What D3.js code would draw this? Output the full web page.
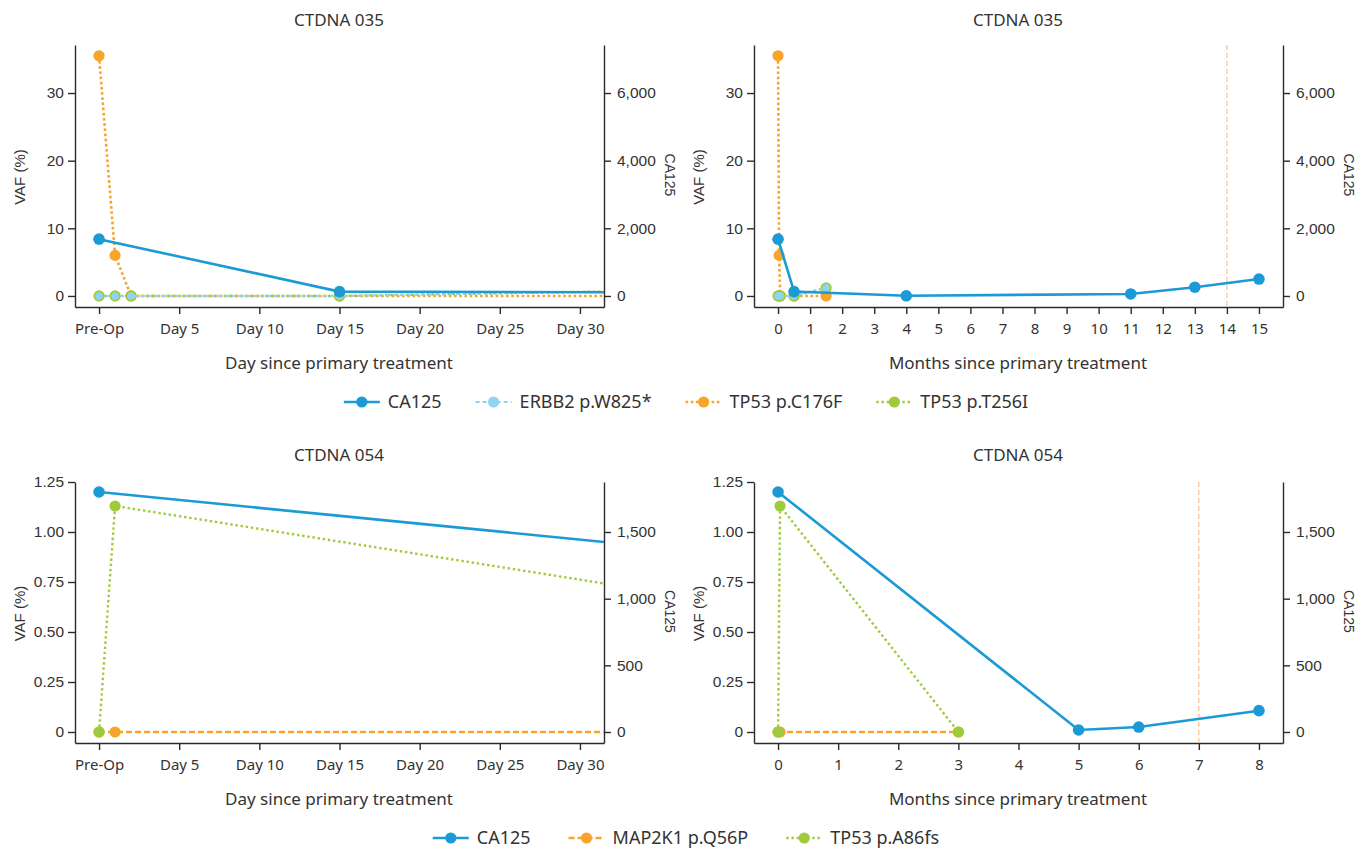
<!DOCTYPE html>
<html lang="en">
<head>
<meta charset="UTF-8">
<title>CTDNA 035 / 054</title>
<script src="https://d3js.org/d3.v7.min.js"></script>
<style>
  body { margin: 0; background: #fff; }
  svg { display: block; }
  .title { font-family: "Noto Sans", sans-serif; font-size: 17px; fill: #333; text-anchor: middle; }
  .xlab { font-family: "Noto Sans", sans-serif; font-size: 17px; fill: #333; text-anchor: middle; }
  .ylab { font-family: "Liberation Sans", Arial, sans-serif; font-size: 15px; fill: #333; text-anchor: middle; }
  .xaxis text { font-family: "Noto Sans", sans-serif; font-size: 15px; fill: #333; }
  .yaxis text { font-family: "Liberation Sans", Arial, sans-serif; font-size: 15.5px; fill: #333; }
  .xaxis path, .xaxis line, .yaxis path, .yaxis line { stroke: #2b2b2b; stroke-width: 1.4; }
  .legend text { font-family: "Noto Sans", sans-serif; font-size: 18px; fill: #333; }
</style>
</head>
<body>
<svg width="1372" height="851"></svg>
<script>
// time in days since primary treatment (Pre-Op = 0)
const dayTicks = [0, 5, 10, 15, 20, 25, 30];
const dayTickLabels = ["Pre-Op", "Day 5", "Day 10", "Day 15", "Day 20", "Day 25", "Day 30"];
const monthTicks035 = d3.range(0, 16);
const monthTicks054 = d3.range(0, 9);

// CTDNA 035
const ca125Days035 = [0, 15, 120, 330, 390, 450];
const ca125Vals035 = [1680, 130, 5, 60, 260, 500];
const mutDays035 = [0, 1, 2, 15, 45];
const erbb2Vaf = [0, 0, 0, 0, 1.2];
const tp53C176FVaf = [35.5, 6.0, 0, 0, 0];
const tp53T256IVaf = [0, 0, 0, 0, 1.2];
const vafTicks035 = [0, 10, 20, 30];
const caTicks035 = [0, 2000, 4000, 6000];
const marker035 = 14; // months

// CTDNA 054
const ca125Days054 = [0, 150, 180, 240];
const ca125Vals054 = [1800, 15, 37, 160];
const mutDays054 = [0, 1, 90];
const map2k1Vaf = [0, 0, 0];
const tp53A86fsVaf = [0, 1.13, 0];
const vafTicks054 = [0, 0.25, 0.5, 0.75, 1.0, 1.25];
const caTicks054 = [0, 500, 1000, 1500];
const marker054 = 7; // months

const C = {
  ca125: "#1b9ad6",
  erbb2: "#8fd4f0",
  orange: "#f6a52a",
  green: "#9ecb3a",
  vline: "#f7c28e"
};

const svg = d3.select("svg");

function zip(xs, ys) { return xs.map((d, i) => ({ t: d, v: ys[i] })); }

function panel(o) {
  const g = svg.append("g");
  const x = d3.scaleLinear().domain(o.xDomain).range([o.left, o.left + 529]);
  const y = d3.scaleLinear().domain(o.vafDomain).range([o.bottom, o.top]);
  const y2 = d3.scaleLinear().domain(o.vafDomain.map(v => v * o.caPerVaf)).range([o.bottom, o.top]);

  g.append("text").attr("class", "title")
    .attr("x", o.left + 264).attr("y", o.titleY).text(o.title);

  const xa = d3.axisBottom(x).tickValues(o.xTicks).tickSize(7).tickPadding(9).tickSizeOuter(0);
  if (o.xLabels) xa.tickFormat((d, i) => o.xLabels[i]);
  else xa.tickFormat(d3.format("d"));
  g.append("g").attr("class", "xaxis")
    .attr("transform", `translate(0,${o.bottom})`).call(xa);

  g.append("g").attr("class", "yaxis")
    .attr("transform", `translate(${o.left},0)`)
    .call(d3.axisLeft(y).tickValues(o.vafTicks).tickSize(7).tickPadding(4).tickSizeOuter(0)
      .tickFormat(o.vafFormat));

  g.append("g").attr("class", "yaxis")
    .attr("transform", `translate(${o.left + 529},0)`)
    .call(d3.axisRight(y2).tickValues(o.caTicks).tickSize(7).tickPadding(6).tickSizeOuter(0)
      .tickFormat(d3.format(",")));

  g.append("text").attr("class", "xlab")
    .attr("x", o.left + 264).attr("y", o.bottom + 62).text(o.xTitle);
  g.append("text").attr("class", "ylab")
    .attr("transform", `translate(${o.left - 55},${(o.top + o.bottom) / 2 + 1}) rotate(-90)`)
    .attr("dy", "0.35em").text("VAF (%)");
  g.append("text").attr("class", "ylab").style("font-size", "14px")
    .attr("transform", `translate(${o.left + 595},${(o.top + o.bottom) / 2 - 1}) rotate(90)`)
    .attr("dy", "0.35em").text("CA125");

  const clipId = "clip" + o.id;
  svg.append("clipPath").attr("id", clipId).append("rect")
    .attr("x", o.left).attr("y", 0).attr("width", 529).attr("height", 851);
  const plot = g.append("g").attr("clip-path", `url(#${clipId})`);

  if (o.vline != null) {
    plot.append("line")
      .attr("x1", x(o.vline)).attr("x2", x(o.vline))
      .attr("y1", o.top).attr("y2", o.bottom)
      .attr("stroke", C.vline).attr("stroke-width", 1.2).attr("stroke-dasharray", "5,3");
  }

  o.series.forEach(s => {
    const pts = s.data;
    const yy = s.ca ? y2 : y;
    const line = d3.line().x(d => x(d.t / o.tDiv)).y(d => yy(d.v));
    plot.append("path").datum(pts)
      .attr("fill", "none").attr("stroke", s.color)
      .attr("stroke-width", s.width).attr("stroke-dasharray", s.dash)
      .attr("d", line);
    plot.selectAll(null).data(pts).enter().append("circle")
      .attr("cx", d => x(d.t / o.tDiv)).attr("cy", d => yy(d.v))
      .attr("r", s.r).attr("fill", s.color);
  });
}

const series035 = [
  { color: C.orange, width: 2.6, dash: "2.6,2.6", r: 5.6, data: zip(mutDays035, tp53C176FVaf) },
  { color: C.green, width: 2.4, dash: "2.4,2.8", r: 5.6, data: zip(mutDays035, tp53T256IVaf) },
  { color: C.erbb2, width: 2, dash: "4,3", r: 3.8, data: zip(mutDays035, erbb2Vaf) },
  { color: C.ca125, width: 2.6, dash: null, r: 5.8, ca: true, data: zip(ca125Days035, ca125Vals035) }
];
const series054 = [
  { color: C.orange, width: 2.6, dash: "6,3", r: 5.6, data: zip(mutDays054, map2k1Vaf) },
  { color: C.green, width: 2.4, dash: "2.4,2.8", r: 5.6, data: zip(mutDays054, tp53A86fsVaf) },
  { color: C.ca125, width: 2.6, dash: null, r: 5.8, ca: true, data: zip(ca125Days054, ca125Vals054) }
];

const fmt054 = d => d === 0 ? "0" : d3.format(".2f")(d);

panel({ id: "a", left: 75, top: 45, bottom: 307, titleY: 26, title: "CTDNA 035",
  xDomain: [-1.5, 31.5], tDiv: 1, xTicks: dayTicks, xLabels: dayTickLabels,
  xTitle: "Day since primary treatment",
  vafDomain: [-1.63, 37.1], caPerVaf: 200, vafTicks: vafTicks035, caTicks: caTicks035,
  vafFormat: d3.format("d"), series: series035 });
panel({ id: "b", left: 754, top: 45, bottom: 307, titleY: 26, title: "CTDNA 035",
  xDomain: [-0.75, 15.75], tDiv: 30, xTicks: monthTicks035,
  xTitle: "Months since primary treatment", vline: marker035,
  vafDomain: [-1.63, 37.1], caPerVaf: 200, vafTicks: vafTicks035, caTicks: caTicks035,
  vafFormat: d3.format("d"), series: series035 });
panel({ id: "c", left: 75, top: 482, bottom: 743, titleY: 461, title: "CTDNA 054",
  xDomain: [-1.5, 31.5], tDiv: 1, xTicks: dayTicks, xLabels: dayTickLabels,
  xTitle: "Day since primary treatment",
  vafDomain: [-0.055, 1.25], caPerVaf: 1500, vafTicks: vafTicks054, caTicks: caTicks054,
  vafFormat: fmt054, series: series054 });
panel({ id: "d", left: 754, top: 482, bottom: 743, titleY: 461, title: "CTDNA 054",
  xDomain: [-0.4, 8.4], tDiv: 30, xTicks: monthTicks054,
  xTitle: "Months since primary treatment", vline: marker054,
  vafDomain: [-0.055, 1.25], caPerVaf: 1500, vafTicks: vafTicks054, caTicks: caTicks054,
  vafFormat: fmt054, series: series054 });

// legends
function legend(items, cy, gap) {
  const g = svg.append("g").attr("class", "legend");
  const parts = items.map(it => {
    const ig = g.append("g");
    ig.append("line").attr("x1", 0).attr("x2", 36).attr("y1", 0).attr("y2", 0)
      .attr("stroke", it.color).attr("stroke-width", it.width).attr("stroke-dasharray", it.dash);
    ig.append("circle").attr("cx", 18).attr("cy", 0).attr("r", 5.6).attr("fill", it.color);
    const t = ig.append("text").attr("x", 44).attr("y", 0).attr("dy", "0.35em").text(it.label);
    return { ig, w: 44 + t.node().getComputedTextLength() };
  });
  const total = d3.sum(parts, p => p.w) + gap * (parts.length - 1);
  let xPos = 686 - total / 2;
  parts.forEach(p => {
    p.ig.attr("transform", `translate(${xPos},${cy})`);
    xPos += p.w + gap;
  });
}

legend([
  { label: "CA125", color: C.ca125, width: 2.6, dash: null },
  { label: "ERBB2 p.W825*", color: C.erbb2, width: 2, dash: "4,3" },
  { label: "TP53 p.C176F", color: C.orange, width: 2.6, dash: "2.6,2.6" },
  { label: "TP53 p.T256I", color: C.green, width: 2.4, dash: "2.4,2.8" }
], 402, 34);
legend([
  { label: "CA125", color: C.ca125, width: 2.6, dash: null },
  { label: "MAP2K1 p.Q56P", color: C.orange, width: 2.6, dash: "6,3" },
  { label: "TP53 p.A86fs", color: C.green, width: 2.4, dash: "2.4,2.8" }
], 838, 38);
</script>
</body>
</html>
